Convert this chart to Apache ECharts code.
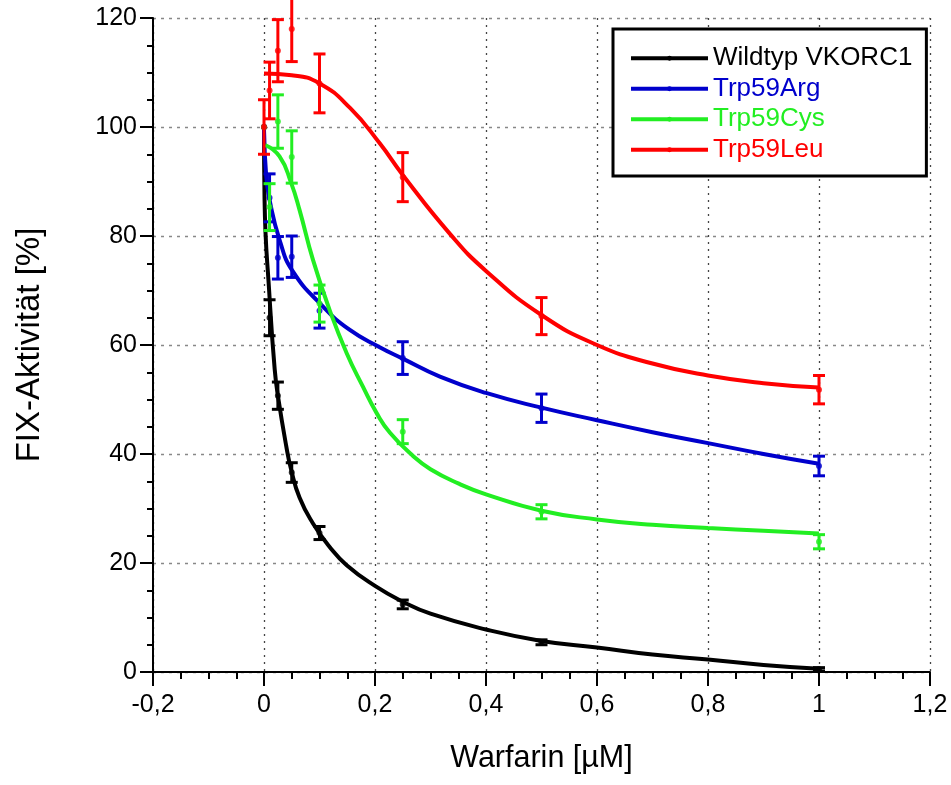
<!DOCTYPE html>
<html>
<head>
<meta charset="utf-8">
<script src="https://cdn.jsdelivr.net/npm/echarts@6/dist/echarts.min.js"></script>
<style>html,body{margin:0;padding:0;background:#fff}#c{width:951px;height:785px}</style>
</head>
<body>
<div id="c"></div>
<script>
// ---- data ----
const doseX = [0, 0.01, 0.025, 0.05, 0.1, 0.25, 0.5, 1];

const wildMean = [100, 65, 50.7, 36.6, 25.5, 12.4, 5.45, 0.5];
const wildErr  = [0, 3.3, 2.5, 1.8, 1.2, 0.8, 0.45, 0.3];
const argMean  = [100, 87, 76, 76.2, 66.3, 57.6, 48.4, 37.8];
const argErr   = [0, 4.4, 3.9, 3.8, 3.2, 3.0, 2.6, 1.8];
const cysMean  = [100, 85.3, 101, 94.5, 67.6, 44.1, 29.4, 23.9];
const cysErr   = [0, 4.3, 4.9, 4.8, 3.4, 2.2, 1.3, 1.3];
const leuMean  = [100, 106.7, 114, 118, 108, 90.8, 65.3, 51.8];
const leuErr   = [5, 5.2, 5.7, 6, 5.4, 4.5, 3.4, 2.6];

// fitted curves (at several x positions)
const wildFitX = [0, 0.001, 0.0103, 0.0193, 0.0252, 0.04, 0.049, 0.064, 0.088, 0.118, 0.149, 0.2, 0.25, 0.3, 0.4, 0.5, 0.6, 0.7, 0.8, 0.9, 1];
const wildFitY = [100, 86.7, 68.3, 55.5, 50.6, 41.5, 37.1, 32, 27.3, 23, 19.6, 15.8, 12.9, 10.7, 7.8, 5.7, 4.5, 3.2, 2.3, 1.3, 0.6];
const argFitX  = [0, 0.004, 0.0103, 0.028, 0.052, 0.106, 0.154, 0.2085, 0.25, 0.317, 0.4, 0.5, 0.6, 0.7, 0.8, 0.9, 1];
const argFitY  = [99.5, 91, 86.5, 79.3, 73.5, 67.1, 62.8, 59.6, 57.5, 54.2, 51.2, 48.5, 46.2, 44, 42, 40, 38.2];
const cysFitX  = [0.002, 0.028, 0.049, 0.064, 0.088, 0.118, 0.149, 0.178, 0.203, 0.227, 0.269, 0.3, 0.35, 0.4, 0.5, 0.6, 0.7, 0.8, 0.9, 1];
const cysFitY  = [96.7, 94.6, 89.7, 84.8, 75.7, 66.5, 58.5, 52.4, 47.5, 43.9, 39.6, 37.2, 34.6, 32.6, 29.6, 28, 27, 26.4, 25.9, 25.4];
const leuFitX  = [0, 0.05, 0.1, 0.155, 0.2085, 0.25, 0.335, 0.4, 0.5, 0.6, 0.7, 0.8, 0.9, 1];
const leuFitY  = [109.8, 109.5, 108, 103.5, 97, 91.2, 80.4, 73.6, 65.5, 60, 56.6, 54.4, 53, 52.2];

const seriesNames = ['Wildtyp VKORC1', 'Trp59Arg', 'Trp59Cys', 'Trp59Leu'];
const xTickLabels = ['-0,2', '0', '0,2', '0,4', '0,6', '0,8', '1', '1,2'];
const yTickLabels = ['0', '20', '40', '60', '80', '100', '120'];
const xTitle = 'Warfarin [µM]';
const yTitle = 'FIX-Aktivität [%]';

// ---- styling ----
const colors = ['#000000', '#0000cc', '#22ee22', '#ff0000'];
const FONT = '"Liberation Sans", Arial, sans-serif';

const groups = [
  {mean: wildMean, err: wildErr, fx: wildFitX, fy: wildFitY},
  {mean: argMean, err: argErr, fx: argFitX, fy: argFitY},
  {mean: cysMean, err: cysErr, fx: cysFitX, fy: cysFitY},
  {mean: leuMean, err: leuErr, fx: leuFitX, fy: leuFitY}
];

const zip = (a, b) => a.map((v, i) => [v, b[i]]);

const series = [];
groups.forEach((g, k) => {
  const c = colors[k];
  series.push({
    name: seriesNames[k], type: 'line', data: zip(g.fx, g.fy),
    smooth: 0.5,
    symbol: 'circle', symbolSize: 5, showSymbol: false,
    lineStyle: {color: c, width: 4}, itemStyle: {color: c},
    z: 2 + k, silent: true
  });
  series.push({
    name: seriesNames[k] + ' SD', type: 'custom',
    data: doseX.map((x, i) => [x, g.mean[i] - g.err[i], g.mean[i] + g.err[i]]).filter((d, i) => g.err[i] > 0),
    encode: {x: 0, y: [1, 2]},
    z: 2 + k, silent: true,
    renderItem: (params, api) => {
      const x = api.value(0);
      const p1 = api.coord([x, api.value(2)]);
      const p2 = api.coord([x, api.value(1)]);
      const hw = 6;
      const st = {stroke: c, lineWidth: 3};
      return {type: 'group', children: [
        {type: 'line', shape: {x1: p1[0], y1: p1[1], x2: p2[0], y2: p2[1]}, style: st},
        {type: 'line', shape: {x1: p1[0] - hw, y1: p1[1], x2: p1[0] + hw, y2: p1[1]}, style: st},
        {type: 'line', shape: {x1: p2[0] - hw, y1: p2[1], x2: p2[0] + hw, y2: p2[1]}, style: st}
      ]};
    }
  });
  series.push({
    name: seriesNames[k] + ' Daten', type: 'scatter', data: zip(doseX, g.mean),
    symbol: 'circle', symbolSize: 6, itemStyle: {color: c}, z: 2 + k, silent: true
  });
});

const chart = echarts.init(document.getElementById('c'), null, {renderer: 'canvas'});
chart.setOption({
  backgroundColor: '#ffffff',
  animation: false,
  textStyle: {fontFamily: FONT},
  grid: {left: 153, right: 21, top: 18, bottom: 113, containLabel: false},
  legend: {
    orient: 'vertical', left: 613, top: 29,
    padding: [14, 14, 11, 16],
    borderColor: '#000', borderWidth: 3, borderRadius: 0,
    backgroundColor: '#fff',
    itemWidth: 77, itemHeight: 6, itemGap: 0,
    selectedMode: false,
    lineStyle: {width: 4},
    textStyle: {fontSize: 26, lineHeight: 30.5, fontFamily: FONT},
    data: seriesNames.map((n, k) => ({name: n, textStyle: {color: colors[k]}}))
  },
  xAxis: {
    type: 'value', min: -0.2, max: 1.2, interval: 0.2,
    name: xTitle, nameLocation: 'middle', nameGap: 71,
    nameTextStyle: {fontSize: 30.5, color: '#000', fontFamily: FONT},
    axisLine: {show: true, onZero: false, lineStyle: {color: '#000', width: 2}},
    axisTick: {show: true, length: 14, lineStyle: {color: '#000', width: 2}},
    minorTick: {show: true, splitNumber: 4, length: 7, lineStyle: {color: '#000', width: 2}},
    axisLabel: {fontSize: 25, color: '#000', margin: 21, fontFamily: FONT,
      formatter: (v, i) => xTickLabels[i]},
    splitLine: {show: true, lineStyle: {color: '#444', width: 1.3, type: [2, 5]}}
  },
  yAxis: {
    type: 'value', min: 0, max: 120, interval: 20,
    name: yTitle, nameLocation: 'middle', nameGap: 107,
    nameTextStyle: {fontSize: 33, color: '#000', fontFamily: FONT},
    axisLine: {show: true, onZero: false, lineStyle: {color: '#000', width: 2}},
    axisTick: {show: true, length: 13, lineStyle: {color: '#000', width: 2}},
    minorTick: {show: true, splitNumber: 4, length: 6, lineStyle: {color: '#000', width: 2}},
    axisLabel: {fontSize: 25, color: '#000', margin: 16, fontFamily: FONT,
      formatter: (v, i) => yTickLabels[i]},
    splitLine: {show: true, lineStyle: {color: '#888', width: 1.3, type: [3, 5]}}
  },
  series: series
});
</script>
</body>
</html>
